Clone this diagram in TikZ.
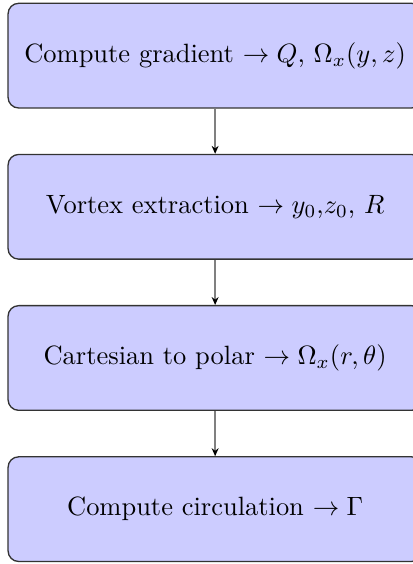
\documentclass[tikz,border=0pt]{standalone}
\usepackage{xcolor}
\usepackage{tikz}
\usetikzlibrary{arrows.meta, positioning}
\definecolor{stepfill}{RGB}{204,204,255}
\tikzstyle{stagebox} = [rectangle, rounded corners=4pt,
fill=stepfill, draw=black!80, line width=0.5pt,
minimum width=5.5cm, minimum height=1.39cm,
align=center]
\tikzstyle{arrow} = [-{Stealth[length=3pt,width=2.6pt,black]}, semithick, draw=black!50]

\begin{document}
\begin{tikzpicture}[node distance=0.6cm]
    \node (grad) [stagebox] {Compute gradient $\rightarrow Q$, $\Omega_x(y,z)$};
    \node (vort) [stagebox, below=of grad] {Vortex extraction $\rightarrow y_0$,$z_0$, $R$};
    \node (pol)  [stagebox, below=of vort] {Cartesian to polar $\rightarrow \Omega_x(r,\theta)$};
    \node (circ) [stagebox, below=of pol]  {Compute circulation $\rightarrow \Gamma$};

    \draw[arrow] (grad) -- (vort);
    \draw[arrow] (vort) -- (pol);
    \draw[arrow] (pol) -- (circ);

    % crop as in the original figure
    \pgfresetboundingbox
    \useasboundingbox ([xshift=-2.8pt,yshift=1pt]grad.north west) rectangle ([xshift=-4.1pt,yshift=-0.7pt]circ.south east);
\end{tikzpicture}
\end{document}
